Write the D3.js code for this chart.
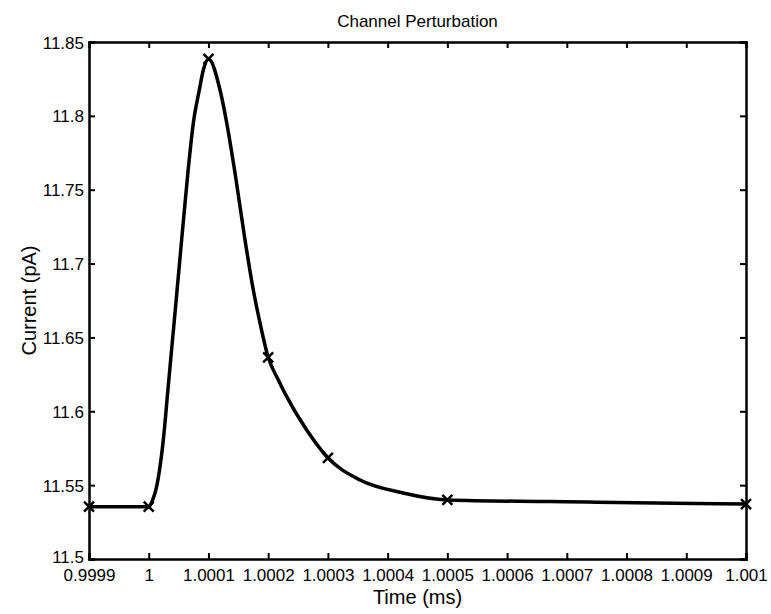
<!DOCTYPE html>
<html><head><meta charset="utf-8">
<script src="https://cdn.jsdelivr.net/npm/d3@7"></script>
<style>
body{margin:0;background:#fff;}
svg text{font-family:"Liberation Sans",Arial,sans-serif;fill:#000;}
</style></head>
<body><svg id="c" width="771" height="614"></svg>
<script>
// Curve samples (time in ms, current in pA)
const curveTime = [0.9999, 1.0, 1.0000064, 1.0000119, 1.0000181, 1.0000244, 1.0000321, 1.0000398,
  1.0000475, 1.0000551, 1.0000655, 1.0000747, 1.0000847, 1.0000914, 1.0001, 1.0001194, 1.0001306,
  1.0001445, 1.0001612, 1.0001751, 1.0001863, 1.0002, 1.000217, 1.000231, 1.0002645, 1.0003,
  1.0003538, 1.0004258, 1.0005, 1.00075, 1.001];
const curveCurrent = [11.5354, 11.5354, 11.5399, 11.5467, 11.5603, 11.5806, 11.6144, 11.6483,
  11.6821, 11.7160, 11.7613, 11.7952, 11.8175, 11.8310, 11.8385, 11.8175, 11.7952,
  11.7613, 11.7160, 11.6821, 11.6598, 11.6365, 11.6212, 11.6099, 11.5873, 11.5685,
  11.5535, 11.5447, 11.5400, 11.5385, 11.5372];
// Marked sample points
const markTime = [0.9999, 1.0, 1.0001, 1.0002, 1.0003, 1.0005, 1.001];
const markCurrent = [11.5354, 11.5354, 11.8385, 11.6365, 11.5685, 11.5400, 11.5372];

const xTicks = [0.9999, 1, 1.0001, 1.0002, 1.0003, 1.0004, 1.0005, 1.0006, 1.0007, 1.0008, 1.0009, 1.001];
const xTickLabels = ["0.9999","1","1.0001","1.0002","1.0003","1.0004","1.0005","1.0006","1.0007","1.0008","1.0009","1.001"];
const yTicks = [11.5, 11.55, 11.6, 11.65, 11.7, 11.75, 11.8, 11.85];
const yTickLabels = ["11.5","11.55","11.6","11.65","11.7","11.75","11.8","11.85"];

const L = 89, R = 746, T = 42, B = 559;
const svg = d3.select("#c");
const x = d3.scaleLinear().domain([0.9999, 1.001]).range([L, R]);
const y = d3.scaleLinear().domain([11.5, 11.85]).range([B, T]);

// Axes
const tickLen = 6;
const gx = svg.append("g").attr("transform", `translate(0,${B})`)
  .call(d3.axisBottom(x).tickValues(xTicks).tickFormat((d,i)=>xTickLabels[i]).tickSize(-tickLen).tickPadding(10));
const gxt = svg.append("g").attr("transform", `translate(0,${T})`)
  .call(d3.axisTop(x).tickValues(xTicks).tickFormat("").tickSize(-tickLen));
const gy = svg.append("g").attr("transform", `translate(${L},0)`)
  .call(d3.axisLeft(y).tickValues(yTicks).tickFormat((d,i)=>yTickLabels[i]).tickSize(-tickLen).tickPadding(5));
const gyr = svg.append("g").attr("transform", `translate(${R},0)`)
  .call(d3.axisRight(y).tickValues(yTicks).tickFormat("").tickSize(-tickLen));
[gx,gxt,gy,gyr].forEach(g=>{
  g.select(".domain").attr("stroke","#000").attr("stroke-width",2.5);
  g.selectAll(".tick line").attr("stroke","#000").attr("stroke-width",2);
  g.selectAll(".tick text").attr("font-size",17).attr("font-family","Liberation Sans, Arial, sans-serif").attr("fill","#000");
});
gx.selectAll(".tick text").attr("dy","0.72em");
gy.selectAll(".tick text").attr("dy","0.36em");
// lowest y label sits slightly above its tick, as in the original
gy.selectAll(".tick text").filter(d=>d===11.5).attr("dy","0.2em");

// Curve
const pts = curveTime.map((t,i)=>[t, curveCurrent[i]]);
svg.append("path").datum(pts)
  .attr("fill","none").attr("stroke","#000").attr("stroke-width",3.5).attr("stroke-linejoin","round")
  .attr("d", d3.line().x(d=>x(d[0])).y(d=>y(d[1])).curve(d3.curveMonotoneX));

// Markers
const m = 5;
const marks = markTime.map((t,i)=>[t, markCurrent[i]]);
svg.append("g").selectAll("path").data(marks).join("path")
  .attr("d", d=>{const cx=x(d[0]), cy=y(d[1]); return `M${cx-m},${cy-m}L${cx+m},${cy+m}M${cx-m},${cy+m}L${cx+m},${cy-m}`;})
  .attr("stroke","#000").attr("stroke-width",2.5).attr("fill","none");

// Titles
svg.append("text").attr("x", (L+R)/2).attr("y", 27).attr("text-anchor","middle").attr("font-size",17).text("Channel Perturbation");
svg.append("text").attr("x", (L+R)/2).attr("y", 604).attr("text-anchor","middle").attr("font-size",20).text("Time (ms)");
svg.append("text").attr("transform", `translate(36,${(T+B)/2}) rotate(-90)`).attr("text-anchor","middle").attr("font-size",20).text("Current (pA)");
</script></body></html>
